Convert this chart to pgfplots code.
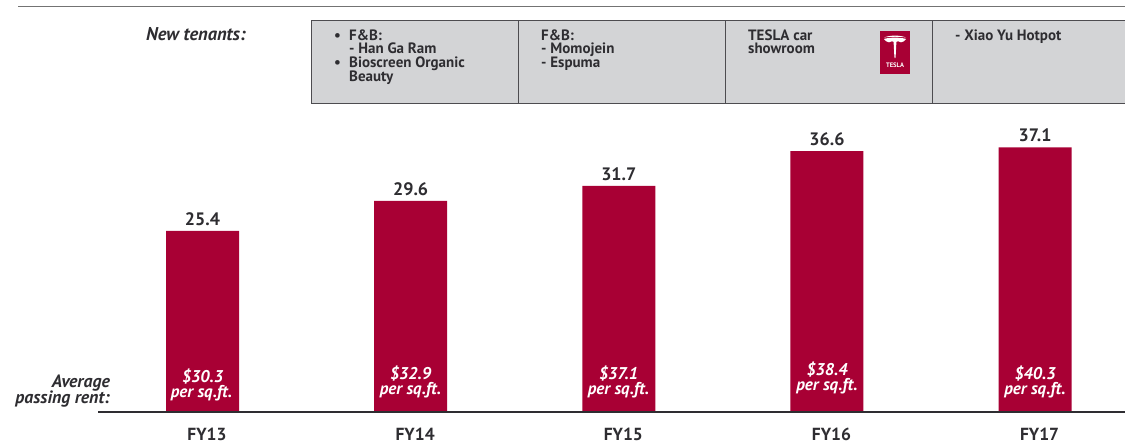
\documentclass[border=0pt]{standalone}
\usepackage{pgfplots}
\usepackage{fontspec}
\pgfplotsset{compat=1.18}
\setmainfont{PT Sans}
\definecolor{barred}{HTML}{A80034}
\definecolor{boxgray}{HTML}{D3D4D6}
\definecolor{ink}{HTML}{2E2D31}
\begin{document}
\begin{tikzpicture}
\useasboundingbox (0pt,0pt) rectangle (1125pt,-443pt);
\begin{axis}[
  at={(0pt,0pt)}, anchor=north west,
  scale only axis, width=1125pt, height=443pt,
  xmin=-0.9729, xmax=4.432, ymin=-4.348, ymax=57.78,
  axis line style={draw=none}, major tick style={draw=none},
  ytick=\empty,
  xtick={0,1,2,3,4}, xticklabels={FY13,FY14,FY15,FY16,FY17},
  xticklabel style={font=\fontsize{17.5}{17.5}\selectfont\bfseries, text=ink, anchor=base, inner sep=0pt, yshift=7pt, xshift=4.5pt},
  ybar, bar width=73pt, ybar=0pt,
  clip=false,
  nodes near coords,
  nodes near coords style={font=\fontsize{18}{18}\selectfont\bfseries, text=ink, /pgf/number format/assume math mode=true, /pgf/number format/fixed, /pgf/number format/fixed zerofill, /pgf/number format/precision=1, yshift=2pt},
]
\addplot[fill=barred, draw=none] coordinates {(0,25.4) (1,29.6) (2,31.7) (3,36.6) (4,37.1)};
\end{axis}
\begin{scope}[x=1pt,y=-1pt]
\draw[draw=gray!90!black, line width=1.2pt] (18,6.5) -- (1125,6.5);
\draw[fill=boxgray, draw=ink!85, line width=1pt] (311,20.5) rectangle (1125.5,104);
\foreach \x in {518,725,932} \draw[ink!85, line width=1pt] (\x,20.5) -- (\x,104);
\draw[ink, line width=2pt] (98,412.5) -- (1125,412.5);
% tenants
\node[anchor=base east, inner sep=0pt, font=\fontsize{18.5}{18.5}\selectfont\bfseries\itshape, text=ink] at (246,41) {New tenants:};
\begin{scope}[every node/.style={anchor=base west, inner sep=0pt, font=\fontsize{15}{15}\selectfont\bfseries, text=ink}]
\node at (334,41) {•};
\node at (349,41) {F\&B:};
\node at (349,54) {- Han Ga Ram};
\node at (334,68) {•};
\node at (349,68) {Bioscreen Organic};
\node at (349,81.5) {Beauty};
\node at (541,41) {F\&B:};
\node at (541,54) {- Momojein};
\node at (541,68) {- Espuma};
\node at (748,41) {TESLA car};
\node at (748,54) {showroom};
\node at (955,41) {- Xiao Yu Hotpot};
\end{scope}
% Tesla logo
\fill[barred] (880,31) rectangle (910,74);
\fill[white] (884,37.5) .. controls (890,35) and (900,35) .. (906,37.5) .. controls (900,36.5) and (890,36.5) .. (884,37.5) -- cycle;
\fill[white] (893.6,42) -- (896.4,42) -- (895.6,57) -- (895,58.5) -- (894.4,57) -- cycle;
\fill[white] (884,39) .. controls (889,37.2) and (901,37.2) .. (906,39) .. controls (905,41) and (903,42) .. (901,42.3) .. controls (899,41) and (897,41) .. (896,42) -- (894,42) .. controls (893,41) and (891,41) .. (889,42.3) .. controls (887,42) and (885,41) .. (884,39) -- cycle;
\node[text=white, inner sep=0pt, font=\fontsize{6.5}{6.5}\selectfont\bfseries] at (895,65.5) {TESLA};
% rents
\begin{scope}[every node/.style={align=center, inner sep=0pt, anchor=base, font=\fontsize{17}{17}\selectfont\bfseries\itshape, text=white}]
\node at (202.5,383) {\$30.3}; \node at (201.5,398) {per sq.ft.};
\node at (410.5,380) {\$32.9}; \node at (410.5,395) {per sq.ft.};
\node at (618.5,380) {\$37.1}; \node at (618.5,395) {per sq.ft.};
\node at (827,376) {\$38.4}; \node at (827,391) {per sq.ft.};
\node at (1035,380) {\$40.3}; \node at (1035,395) {per sq.ft.};
\end{scope}
\begin{scope}[every node/.style={inner sep=0pt, anchor=base east, font=\fontsize{17.8}{17.8}\selectfont\bfseries\itshape, text=ink}]
\node at (110,388) {Average};
\node at (110,404) {passing rent:};
\end{scope}
\end{scope}
\end{tikzpicture}
\end{document}
